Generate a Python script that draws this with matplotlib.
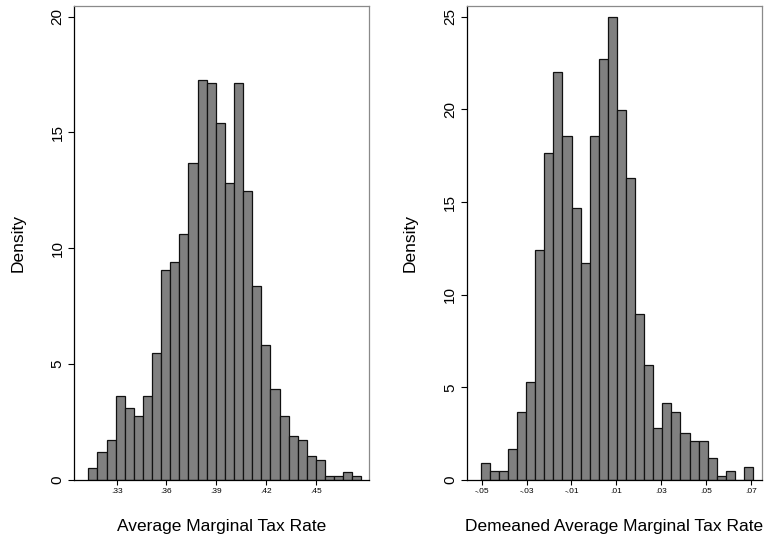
import numpy as np
import matplotlib
matplotlib.use("Agg")
import matplotlib.pyplot as plt

plt.rcParams['font.family'] = ['Liberation Sans', 'DejaVu Sans']

# ---- data ----
left_bin_start = 0.3129
left_bin_end = 0.4776
left_density = [0.53, 1.21, 1.73, 3.61, 3.09, 2.75, 3.61, 5.49, 9.08, 9.42,
                10.63, 13.70, 17.28, 17.12, 15.42, 12.83, 17.12, 12.49, 8.39, 5.83,
                3.94, 2.75, 1.90, 1.73, 1.04, 0.88, 0.17, 0.17, 0.36, 0.17]
left_xticks = [0.33, 0.36, 0.39, 0.42, 0.45]
left_xticklabels = [".33", ".36", ".39", ".42", ".45"]
left_yticks = [0, 5, 10, 15, 20]
left_xlabel = "Average Marginal Tax Rate"

right_bin_start = -0.0504
right_bin_end = 0.0709
right_density = [0.93, 0.47, 0.47, 1.66, 3.69, 5.31, 12.41, 17.66, 22.04, 18.58,
                 14.70, 11.69, 18.58, 22.70, 25.00, 19.97, 16.28, 8.96, 6.21, 2.79,
                 4.14, 3.69, 2.55, 2.10, 2.10, 1.17, 0.23, 0.47, 0.00, 0.70]
right_xticks = [-0.05, -0.03, -0.01, 0.01, 0.03, 0.05, 0.07]
right_xticklabels = ["-.05", "-.03", "-.01", ".01", ".03", ".05", ".07"]
right_yticks = [0, 5, 10, 15, 20, 25]
right_xlabel = "Demeaned Average Marginal Tax Rate"

ylabel = "Density"

W, H = 775, 542
fig = plt.figure(figsize=(W / 100, H / 100), dpi=100)
fig.patch.set_facecolor("white")


def panel(rect, start, end, dens, xticks, xticklabels, yticks, xlabel, xlim, ylim):
    ax = fig.add_axes(rect)
    edges = np.linspace(start, end, len(dens) + 1)
    ax.bar(edges[:-1], dens, width=np.diff(edges), align='edge',
           color='#808080', edgecolor='#111111', linewidth=0.9)
    ax.set_xlim(*xlim)
    ax.set_ylim(*ylim)
    ax.set_xticks(xticks)
    ax.set_xticklabels(xticklabels, fontsize=6)
    ax.set_yticks(yticks)
    ax.set_yticklabels([str(v) for v in yticks], fontsize=11, rotation=90,
                       va='center', ha='right')
    ax.tick_params(axis='y', length=4.3, width=0.8, pad=2.5, color='black')
    ax.tick_params(axis='x', length=3.6, width=0.8, pad=2.5, color='black')
    for s in ['left', 'bottom']:
        ax.spines[s].set_color('black')
        ax.spines[s].set_linewidth(0.9)
    for s in ['top', 'right']:
        ax.spines[s].set_color('#8a8a8a')
        ax.spines[s].set_linewidth(0.9)
    ax.set_xlabel(xlabel, fontsize=12.5)
    ax.xaxis.set_label_coords(0.5, -0.099)
    ax.xaxis.label.set_va('center')
    ax.set_ylabel(ylabel, fontsize=12.5)
    ax.yaxis.set_label_coords(-56 / 295, 0.5)
    ax.yaxis.label.set_va('center')
    ax.set_facecolor('white')
    return ax


top_px, base_px = 6, 480
bottom = (H - base_px) / H
height = (base_px - top_px) / H

panel([74 / W, bottom, 295 / W, height], left_bin_start, left_bin_end, left_density,
      left_xticks, left_xticklabels, left_yticks, left_xlabel,
      (0.30425, 0.48215), (0, 20.46))
panel([466.7 / W, bottom, 295.6 / W, height], right_bin_start, right_bin_end, right_density,
      right_xticks, right_xticklabels, right_yticks, right_xlabel,
      (-0.0567, 0.07504), (0, 25.58))

fig.savefig("out.png", dpi=100, facecolor='white')
